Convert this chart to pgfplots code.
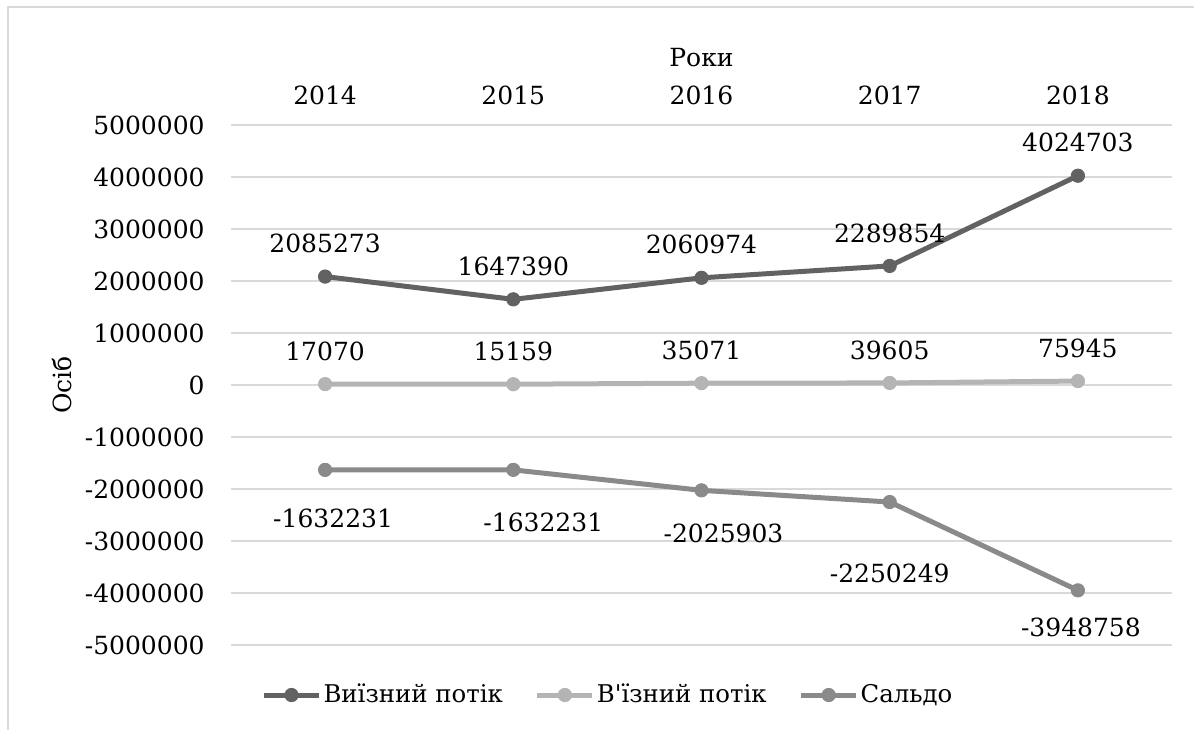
\documentclass[border=0pt]{standalone}
\usepackage{fontspec}
\setmainfont{DejaVu Serif}
\newfontfamily\legfont{DejaVu Serif}
\usepackage{pgfplots}
\pgfplotsset{compat=1.18}
\usepackage{pgfplotstable}

\definecolor{vyizd}{HTML}{626262}
\definecolor{vizd}{HTML}{B4B4B4}
\definecolor{saldo}{HTML}{8A8A8A}
\definecolor{gridc}{HTML}{D9D9D9}

\newcommand\lblfont{\fontsize{12.5}{15}\selectfont}

% x y label label-shift(pt)
\pgfplotstableread{
x y lbl dx dy
0 2085273 2085273 0 16.5
1 1647390 1647390 0 16.5
2 2060974 2060974 0 16.5
3 2289854 2289854 0 16.5
4 4024703 4024703 0 16.5
}\tabout
\pgfplotstableread{
x y lbl dx dy
0 17070 17070 0 16.5
1 15159 15159 0 16.5
2 35071 35071 0 16.5
3 39605 39605 0 16.5
4 75945 75945 0 16.5
}\tabin
\pgfplotstableread{
x y lbl dx dy
0 -1632231 -1632231 4 -24.5
1 -1632231 -1632231 15 -26.5
2 -2025903 -2025903 11 -21.5
3 -2250249 -2250249 0 -35.5
4 -3948758 -3948758 1.5 -18.5
}\tabsaldo

\pgfplotsset{
  lbls/.style={
    nodes near coords, point meta=explicit symbolic,
    visualization depends on={\thisrow{dx}\as\dx},
    visualization depends on={\thisrow{dy}\as\dy},
    every node near coord/.append style={font=\lblfont, text=black,
      anchor=center, inner sep=0pt, xshift={\dx*1pt}, yshift={\dy*1pt}},
  },
  ser/.style={#1, line width=2.5pt, mark=*, mark size=3.3pt,
    mark options={line width=0.5pt, fill=#1, draw=#1}},
}

\begin{document}
\begin{tikzpicture}
\useasboundingbox (0,0) rectangle (597pt,364.5pt);
\draw[gridc, line width=0.75pt] (4pt,-2pt) -- (4pt,361pt) -- (600pt,361pt);
\begin{axis}[
  at={(115.5pt,42pt)}, anchor=south west,
  scale only axis, width=470.5pt, height=260pt,
  clip=false,
  xmin=-0.5, xmax=4.5, ymin=-5000000, ymax=5000000,
  scaled y ticks=false,
  xtick={0,1,2,3,4}, xticklabels={2014,2015,2016,2017,2018},
  xticklabel pos=upper,
  ytick={-5000000,-4000000,-3000000,-2000000,-1000000,0,1000000,2000000,3000000,4000000,5000000},
  yticklabels={-5000000,-4000000,-3000000,-2000000,-1000000,0,1000000,2000000,3000000,4000000,5000000},
  ymajorgrids, grid style={gridc, line width=1pt},
  axis line style={draw=none},
  major tick length=0pt, tick style={draw=none},
  tick label style={font=\lblfont},
  xticklabel style={anchor=center, yshift=15pt},
  yticklabel style={anchor=east, inner sep=0pt, xshift=-13pt},
  xlabel={Роки}, ylabel={Осіб},
  label style={font=\lblfont},
  xlabel style={at={(axis description cs:0.5,1.1288)}, anchor=center},
  ylabel style={at={(axis description cs:-0.1796,0.5)}, anchor=center},
  legend columns=3,
  legend style={at={(0.4006,-0.0962)}, anchor=center, draw=none,
    font=\legfont\fontsize{12.2}{14}\selectfont,
    nodes={inner xsep=1pt},
    /tikz/every even column/.append style={column sep=15pt}},
  legend image code/.code={
    \draw[mark repeat=2,mark phase=2,#1,line width=2.5pt] plot coordinates {(0pt,0pt) (13.75pt,0pt) (27.5pt,0pt)};},
]
\addplot[ser=vyizd, lbls] table[x=x, y=y, meta=lbl] {\tabout};
\addlegendentry{Виїзний потік}
\addplot[ser=vizd, lbls] table[x=x, y=y, meta=lbl] {\tabin};
\addlegendentry{В'їзний потік}
\addplot[ser=saldo, lbls] table[x=x, y=y, meta=lbl] {\tabsaldo};
\addlegendentry{Сальдо}
\end{axis}
\end{tikzpicture}
\end{document}
